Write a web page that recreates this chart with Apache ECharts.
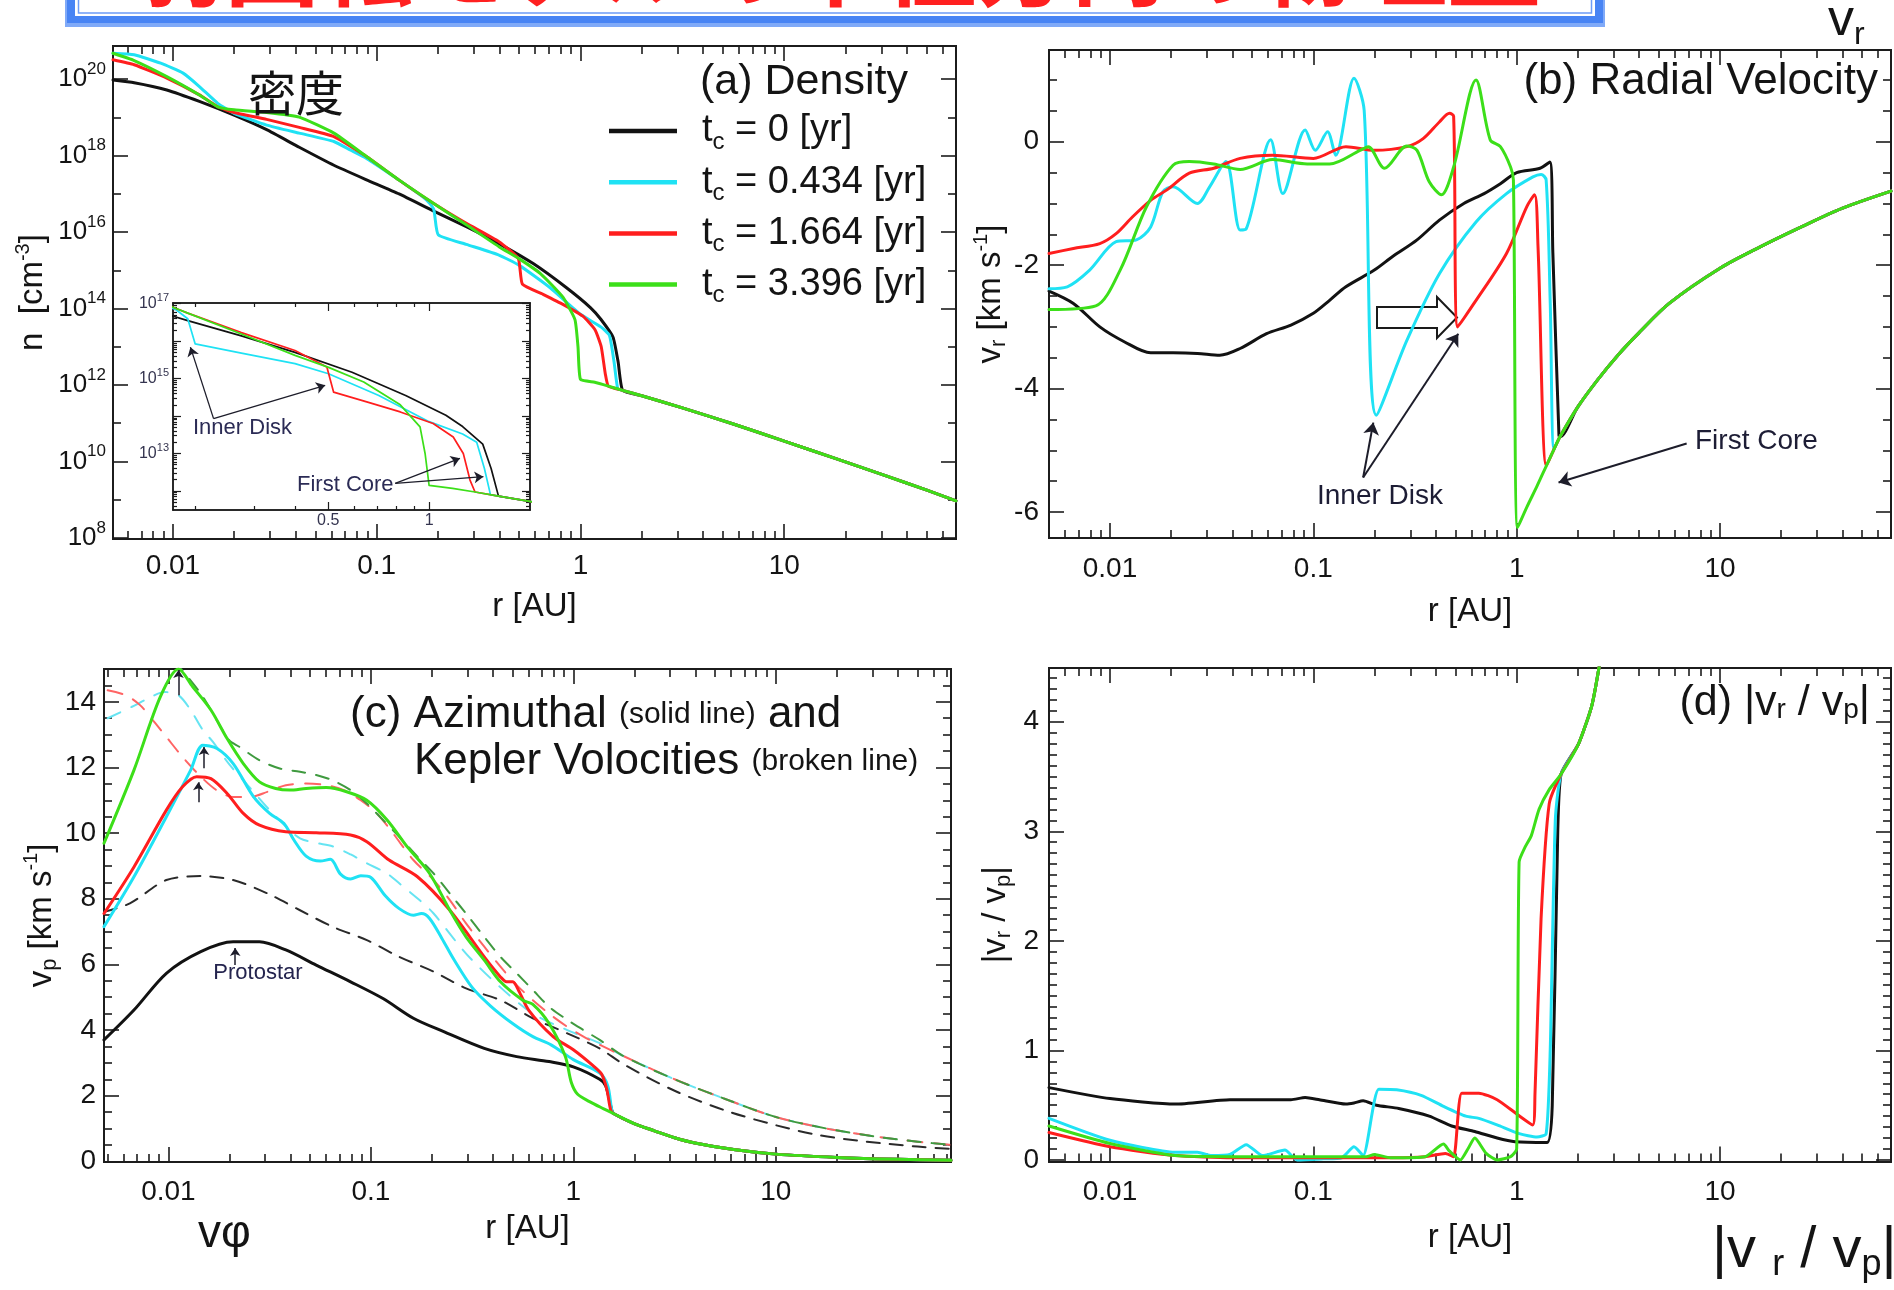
<!DOCTYPE html>
<html>
<head>
<meta charset="utf-8">
<script src="https://cdn.jsdelivr.net/npm/echarts@6/dist/echarts.min.js"></script>
<style>
  html, body { margin: 0; padding: 0; background: #ffffff; }
  #chart { width: 1894px; height: 1290px; }
</style>
</head>
<body>
<div id="chart"></div>
<script>
// Radial profiles of the first core at four epochs.
// Radius is stored as log10(r / AU); density as log10(n / cm^-3).

// ---------- (a) number density ----------
const densityT0 = [[-2.294,19.98],[-2.19,19.91],[-2.03,19.72],[-1.87,19.42],[-1.70,19.06],[-1.54,18.68],[-1.38,18.22],[-1.21,17.75],[-1.05,17.37],[-0.89,17.00],[-0.72,16.55],[-0.56,16.14],[-0.40,15.70],[-0.23,15.17],[-0.07,14.55],[0.05,14.02],[0.10,13.72],[0.16,13.25],[0.185,12.60],[0.207,11.86]];
const densityT1 = [[-2.294,20.68],[-2.19,20.64],[-2.06,20.42],[-1.95,20.16],[-1.87,19.81],[-1.78,19.37],[-1.70,19.11],[-1.54,18.80],[-1.38,18.59],[-1.21,18.37],[-1.13,18.15],[-1.05,17.93],[-0.89,17.36],[-0.755,16.84],[-0.72,16.60],[-0.698,15.93],[-0.56,15.68],[-0.40,15.40],[-0.30,15.13],[-0.15,14.55],[0.0,13.85],[0.10,13.52],[0.142,13.30],[0.165,12.60],[0.183,11.90],[0.207,11.86]];
const densityT2 = [[-2.294,20.51],[-2.19,20.38],[-2.03,20.03],[-1.87,19.59],[-1.78,19.28],[-1.70,19.13],[-1.54,18.95],[-1.38,18.74],[-1.21,18.50],[-1.05,17.98],[-0.89,17.36],[-0.72,16.75],[-0.56,16.23],[-0.40,15.75],[-0.305,15.31],[-0.285,14.64],[-0.186,14.38],[-0.086,14.11],[0.012,13.80],[0.072,13.44],[0.102,13.00],[0.122,12.29],[0.137,11.97],[0.207,11.86]];
const densityT3 = [[-2.294,20.68],[-2.19,20.49],[-2.03,20.07],[-1.87,19.59],[-1.78,19.28],[-1.70,19.20],[-1.54,19.13],[-1.38,19.01],[-1.21,18.59],[-1.05,17.98],[-0.89,17.36],[-0.72,16.75],[-0.56,16.19],[-0.40,15.62],[-0.30,15.30],[-0.195,14.91],[-0.086,14.30],[-0.027,13.71],[-0.012,13.00],[0.0,12.15],[0.07,12.07],[0.137,11.97],[0.207,11.86]];
const densityOuter = [[0.30,11.72],[0.50,11.40],[0.75,10.98],[1.0,10.53],[1.25,10.08],[1.50,9.62],[1.70,9.25],[1.843,8.97]];

// ---------- (b) radial velocity [km/s] ----------
const vradT0 = [[-2.30,-2.42],[-2.18,-2.62],[-2.05,-3.00],[-1.93,-3.24],[-1.80,-3.42],[-1.69,-3.42],[-1.57,-3.43],[-1.46,-3.46],[-1.36,-3.35],[-1.23,-3.11],[-1.11,-2.97],[-1.0,-2.78],[-0.92,-2.57],[-0.84,-2.35],[-0.70,-2.08],[-0.61,-1.86],[-0.49,-1.59],[-0.38,-1.27],[-0.26,-1.00],[-0.16,-0.84],[-0.08,-0.68],[0.0,-0.50],[0.115,-0.43],[0.163,-0.33],[0.178,-1.80],[0.208,-4.76]];
const vradT1 = [[-2.30,-2.38],[-2.21,-2.35],[-2.10,-2.08],[-1.97,-1.62],[-1.87,-1.59],[-1.80,-1.38],[-1.74,-0.81],[-1.69,-0.73],[-1.57,-1.00],[-1.51,-0.73],[-1.43,-0.32],[-1.36,-1.43],[-1.33,-1.41],[-1.21,0.03],[-1.15,-0.84],[-1.04,0.19],[-0.99,-0.14],[-0.93,0.16],[-0.89,-0.22],[-0.80,1.03],[-0.75,0.51],[-0.69,-4.43],[-0.54,-3.22],[-0.38,-2.14],[-0.20,-1.30],[-0.05,-0.84],[0.08,-0.57],[0.12,-0.53],[0.145,-0.62],[0.165,-2.60],[0.184,-4.98]];
const vradT2 = [[-2.30,-1.81],[-2.18,-1.73],[-2.05,-1.65],[-1.97,-1.49],[-1.89,-1.22],[-1.80,-0.95],[-1.72,-0.78],[-1.61,-0.51],[-1.49,-0.43],[-1.36,-0.27],[-1.20,-0.22],[-1.0,-0.27],[-0.84,-0.08],[-0.70,-0.14],[-0.54,-0.08],[-0.46,0.05],[-0.38,0.32],[-0.33,0.46],[-0.31,0.41],[-0.29,-3.00],[-0.21,-2.62],[-0.05,-1.81],[0.05,-1.05],[0.088,-0.86],[0.105,-1.70],[0.146,-5.25],[0.184,-4.98]];
const vradT3 = [[-2.30,-2.72],[-2.07,-2.66],[-1.95,-2.08],[-1.82,-1.05],[-1.69,-0.38],[-1.61,-0.32],[-1.49,-0.36],[-1.36,-0.45],[-1.20,-0.29],[-1.03,-0.36],[-0.92,-0.36],[-0.77,-0.14],[-0.73,-0.08],[-0.65,-0.43],[-0.54,-0.07],[-0.49,-0.14],[-0.43,-0.65],[-0.37,-0.86],[-0.31,-0.41],[-0.20,1.00],[-0.13,0.03],[-0.08,-0.08],[-0.03,-0.41],[-0.016,-0.62],[0.005,-6.25],[0.05,-5.92],[0.10,-5.58],[0.146,-5.25],[0.184,-4.98]];
const vradOuter = [[0.213,-4.78],[0.30,-4.30],[0.40,-3.85],[0.50,-3.45],[0.60,-3.10],[0.75,-2.62],[1.0,-2.05],[1.2,-1.70],[1.4,-1.38],[1.6,-1.08],[1.841,-0.80]];

// ---------- (c) azimuthal velocity [km/s] ----------
const vphiT0 = [[-2.318,3.70],[-2.17,4.61],[-2.01,5.73],[-1.84,6.39],[-1.68,6.69],[-1.55,6.69],[-1.42,6.44],[-1.27,5.98],[-1.10,5.47],[-0.94,4.96],[-0.79,4.36],[-0.64,3.95],[-0.44,3.44],[-0.28,3.19],[-0.12,3.04],[0.0,2.88],[0.13,2.50],[0.16,2.30],[0.19,1.55]];
const vphiT1 = [[-2.318,7.15],[-2.17,8.67],[-2.01,10.50],[-1.89,11.92],[-1.83,12.68],[-1.76,12.58],[-1.68,12.12],[-1.58,11.11],[-1.50,10.60],[-1.43,10.30],[-1.38,9.79],[-1.32,9.30],[-1.25,9.15],[-1.20,9.20],[-1.15,8.75],[-1.10,8.60],[-1.05,8.70],[-1.0,8.65],[-0.93,8.10],[-0.86,7.70],[-0.79,7.50],[-0.75,7.55],[-0.71,7.40],[-0.65,6.80],[-0.59,6.15],[-0.50,5.30],[-0.41,4.74],[-0.30,4.20],[-0.20,3.80],[-0.11,3.55],[0.0,3.10],[0.13,2.69],[0.17,2.30],[0.19,1.55]];
const vphiT2 = [[-2.318,7.55],[-2.17,8.97],[-2.01,10.70],[-1.93,11.41],[-1.86,11.72],[-1.79,11.66],[-1.71,11.21],[-1.63,10.60],[-1.55,10.24],[-1.42,10.04],[-1.27,10.01],[-1.10,9.94],[-1.02,9.74],[-0.91,9.18],[-0.77,8.67],[-0.61,7.65],[-0.44,6.23],[-0.36,5.62],[-0.33,5.47],[-0.30,5.47],[-0.27,5.20],[-0.22,4.60],[-0.10,3.80],[0.0,3.40],[0.10,2.90],[0.14,2.65],[0.165,2.20],[0.185,1.55]];
const vphiT3 = [[-2.318,9.69],[-2.17,11.92],[-2.04,14.15],[-1.95,15.00],[-1.88,14.46],[-1.79,13.75],[-1.71,12.88],[-1.63,12.12],[-1.55,11.56],[-1.47,11.36],[-1.40,11.31],[-1.32,11.36],[-1.22,11.39],[-1.12,11.26],[-1.02,11.00],[-0.92,10.40],[-0.82,9.58],[-0.71,8.77],[-0.61,7.65],[-0.53,6.84],[-0.44,6.13],[-0.36,5.47],[-0.25,4.91],[-0.20,4.78],[-0.12,4.20],[-0.04,3.20],[-0.01,2.40],[0.02,2.05],[0.08,1.82],[0.15,1.60]];
const vphiOuter = [[0.20,1.45],[0.30,1.15],[0.40,0.93],[0.50,0.72],[0.60,0.56],[0.80,0.35],[1.0,0.22],[1.3,0.12],[1.6,0.06],[1.865,0.03]];

// Kepler velocities [km/s]
const vkepT0 = [[-2.318,7.60],[-2.19,7.86],[-2.01,8.57],[-1.84,8.69],[-1.68,8.57],[-1.51,8.16],[-1.35,7.65],[-1.19,7.15],[-1.02,6.74],[-0.86,6.23],[-0.69,5.78],[-0.53,5.27],[-0.36,4.91],[-0.20,4.36],[-0.03,3.90],[0.13,3.44],[0.25,2.95],[0.50,2.15],[0.75,1.55],[1.0,1.10],[1.21,0.80],[1.45,0.60],[1.70,0.45],[1.865,0.38]];
const vkepT1 = [[-2.30,13.50],[-2.18,13.85],[-2.10,14.10],[-2.02,14.30],[-1.95,14.20],[-1.89,13.75],[-1.83,13.14],[-1.78,12.78],[-1.70,12.10],[-1.60,11.40],[-1.50,10.70],[-1.42,10.20],[-1.35,9.84],[-1.27,9.70],[-1.19,9.60],[-1.10,9.35],[-1.02,9.08],[-0.92,8.77],[-0.86,8.47],[-0.76,7.96],[-0.69,7.55],[-0.53,6.33],[-0.36,5.30],[-0.20,4.50],[-0.03,4.00],[0.13,3.60]];
const vkepT2 = [[-2.30,14.35],[-2.21,14.20],[-2.14,13.90],[-2.07,13.39],[-2.01,12.93],[-1.93,12.32],[-1.84,11.72],[-1.76,11.30],[-1.68,11.10],[-1.60,11.10],[-1.51,11.26],[-1.42,11.46],[-1.32,11.51],[-1.22,11.46],[-1.13,11.30],[-1.05,11.00],[-0.97,10.60],[-0.89,9.99],[-0.79,9.18],[-0.69,8.57],[-0.61,7.96],[-0.53,7.25],[-0.44,6.54],[-0.36,5.93],[-0.28,5.37],[-0.20,4.91],[-0.12,4.50],[-0.03,4.10],[0.05,3.80],[0.13,3.55]];
const vkepT3 = [[-2.05,15.80],[-1.95,15.10],[-1.84,14.25],[-1.79,13.75],[-1.70,12.83],[-1.65,12.63],[-1.55,12.22],[-1.45,11.97],[-1.35,11.87],[-1.27,11.77],[-1.19,11.61],[-1.10,11.31],[-1.02,10.90],[-0.94,10.40],[-0.86,9.89],[-0.77,9.28],[-0.69,8.77],[-0.61,8.16],[-0.53,7.55],[-0.44,6.84],[-0.36,6.23],[-0.28,5.73],[-0.20,5.22],[-0.12,4.71],[-0.03,4.31],[0.05,4.00],[0.13,3.70]];
const vkepOuter = [[0.25,3.20],[0.50,2.50],[0.75,1.90],[1.0,1.35],[1.25,1.00],[1.5,0.75],[1.7,0.60],[1.865,0.50]];

// ---------- (d) |v_r / v_phi| ----------
const ratioT0 = [[-2.30,0.66],[-2.0,0.56],[-1.68,0.51],[-1.41,0.55],[-1.11,0.55],[-1.04,0.57],[-0.97,0.55],[-0.84,0.51],[-0.80,0.52],[-0.755,0.54],[-0.69,0.50],[-0.58,0.47],[-0.43,0.40],[-0.32,0.31],[-0.206,0.26],[-0.096,0.20],[-0.008,0.167],[0.15,0.16],[0.175,0.50],[0.20,2.80]];
const ratioT1 = [[-2.30,0.38],[-2.0,0.18],[-1.68,0.07],[-1.57,0.07],[-1.50,0.04],[-1.41,0.05],[-1.33,0.14],[-1.25,0.04],[-1.14,0.09],[-1.08,0.0],[-0.95,0.01],[-0.86,0.02],[-0.80,0.12],[-0.755,0.04],[-0.678,0.645],[-0.59,0.64],[-0.47,0.59],[-0.36,0.49],[-0.25,0.40],[-0.186,0.38],[-0.096,0.32],[0.013,0.24],[0.10,0.21],[0.145,0.24],[0.165,1.00],[0.19,3.10]];
const ratioT2 = [[-2.30,0.25],[-2.0,0.12],[-1.68,0.04],[-1.40,0.02],[-1.0,0.02],[-0.60,0.02],[-0.45,0.03],[-0.35,0.06],[-0.31,0.03],[-0.27,0.61],[-0.186,0.61],[-0.096,0.55],[0.0,0.42],[0.079,0.32],[0.09,0.60],[0.12,2.20],[0.16,3.25]];
const ratioT3 = [[-2.30,0.31],[-2.0,0.15],[-1.68,0.04],[-1.40,0.03],[-1.0,0.03],[-0.74,0.03],[-0.70,0.05],[-0.62,0.02],[-0.45,0.03],[-0.36,0.145],[-0.33,0.08],[-0.277,0.0],[-0.24,0.10],[-0.206,0.20],[-0.15,0.06],[-0.096,0.0],[-0.03,0.03],[0.0,0.10],[0.012,2.72],[0.04,2.85],[0.072,2.96],[0.11,3.20],[0.16,3.38]];
const ratioOuter = [[0.218,3.52],[0.305,3.80],[0.37,4.15],[0.41,4.55]];

// Legend entries (collapse time t_c)
const epochLabels = ['0', '0.434', '1.664', '3.396'];

// ---------- styling ----------
const FONT = '"Liberation Sans", Arial, Helvetica, sans-serif';
const CJK = '"Noto Sans CJK JP", "Noto Sans CJK SC", sans-serif';
const INK = '#141414';
const LINE = '#1c1c1c';
const solidColors = ['#121212', '#1fe2f4', '#ff1e1e', '#3cdf19'];
const kepColors = ['#2a2a2a', '#66e4f2', '#ff6464', '#3f9a3f'];

// axis extents in log10 units
const xExtA = [-2.294, 1.843], yExtA = [7.97, 20.87];
const xExtB = [-2.30, 1.841], yExtB = [-6.42, 1.486];
const xExtC = [-2.318, 1.865], yExtC = [-0.02, 15.0];
const xExtD = [-2.30, 1.841], yExtD = [-0.014, 4.49];
const xExtIn = [-0.764, 0.301], yExtIn = [11.49, 17.02];

function logMinor(ext) {
  const out = [];
  for (let d = Math.floor(ext[0]) - 1; d <= Math.ceil(ext[1]); d++) {
    for (let m = 2; m <= 9; m++) {
      const v = d + Math.log10(m);
      if (v > ext[0] + 1e-4 && v < ext[1] - 1e-4) out.push(+v.toFixed(5));
    }
  }
  return out;
}
function linTicks(ext, step, skipStep) {
  const out = [];
  const start = Math.ceil(ext[0] / step - 1e-9);
  for (let k = start; k * step <= ext[1] + 1e-9; k++) {
    const v = +(k * step).toFixed(6);
    if (v <= ext[0] + 1e-6 || v >= ext[1] - 1e-6) continue;
    if (skipStep) { const r = v / skipStep; if (Math.abs(r - Math.round(r)) < 1e-6) continue; }
    out.push(v);
  }
  return out;
}
const fmtLogR = v => { const p = Math.round(v); return p < 0 ? Math.pow(10, p).toFixed(-p) : String(Math.pow(10, p)); };
const fmtPow = v => '10{sup|' + Math.round(v) + '}';
const fmtNum = v => String(Math.round(v * 100) / 100);

const nameStyle = {
  fontSize: 33, fontFamily: FONT, color: INK,
  rich: {
    sub: { fontSize: 22, fontFamily: FONT, color: INK, padding: [16, 0, 0, 0] },
    sup: { fontSize: 20, fontFamily: FONT, color: INK, padding: [0, 0, 20, 0] }
  }
};
const tickLabel = { fontSize: 28, fontFamily: FONT, color: INK };

// ---------- axes: each frame gets mirrored major/minor ticks on all four sides ----------
const xAxes = [], yAxes = [];
function axisBase(gi, ext, pos, ticks, len, lw) {
  return {
    type: 'value', gridIndex: gi, min: ext[0], max: ext[1], position: pos, offset: 0,
    splitLine: { show: false }, silent: true,
    axisLine: { show: true, onZero: false, lineStyle: { color: LINE, width: lw } },
    axisTick: { show: true, inside: true, length: len, customValues: ticks, lineStyle: { color: LINE, width: lw * 0.8 } },
    axisLabel: { show: false, customValues: ticks }
  };
}
function addFrame(gi, xExt, yExt, o) {
  const xi = xAxes.length, yi = yAxes.length;
  const bx = axisBase(gi, xExt, 'bottom', o.xMajor, o.majorLen, o.lw);
  bx.axisLabel = Object.assign({ show: true, customValues: o.xLabels || o.xMajor }, o.xLabel);
  if (o.xName) Object.assign(bx, { name: o.xName, nameLocation: 'middle', nameGap: o.xNameGap, nameTextStyle: nameStyle });
  xAxes.push(bx,
    axisBase(gi, xExt, 'bottom', o.xMinor, o.minorLen, o.lw),
    axisBase(gi, xExt, 'top', o.xMajor, o.majorLen, o.lw),
    axisBase(gi, xExt, 'top', o.xMinor, o.minorLen, o.lw));
  const ly = axisBase(gi, yExt, 'left', o.yMajor, o.majorLen, o.lw);
  ly.axisLabel = Object.assign({ show: true, customValues: o.yLabels || o.yMajor }, o.yLabel);
  if (o.yName) Object.assign(ly, { name: o.yName, nameLocation: 'middle', nameRotate: 90, nameGap: o.yNameGap, nameTextStyle: nameStyle });
  yAxes.push(ly,
    axisBase(gi, yExt, 'left', o.yMinor, o.minorLen, o.lw),
    axisBase(gi, yExt, 'right', o.yMajor, o.majorLen, o.lw),
    axisBase(gi, yExt, 'right', o.yMinor, o.minorLen, o.lw));
  return { xi, yi };
}

const xLabelAt = margin => Object.assign({ margin, formatter: fmtLogR }, tickLabel);
const xMajorMain = [-2, -1, 0, 1];

const axA = addFrame(0, xExtA, yExtA, {
  xMajor: xMajorMain, xMinor: logMinor(xExtA), yMajor: [8, 10, 12, 14, 16, 18, 20], yMinor: [9, 11, 13, 15, 17, 19],
  majorLen: 15, minorLen: 8, lw: 2,
  xLabel: xLabelAt(13),
  yLabel: { margin: 7, fontSize: 26, fontFamily: FONT, color: INK, formatter: fmtPow,
    rich: { sup: { fontSize: 17, fontFamily: FONT, color: INK, padding: [0, 0, 20, 0] } } },
  xName: 'r [AU]', xNameGap: 51, yName: 'n  [cm{sup|-3}]', yNameGap: 60
});
const axB = addFrame(1, xExtB, yExtB, {
  xMajor: xMajorMain, xMinor: logMinor(xExtB), yMajor: [-6, -4, -2, 0], yMinor: linTicks(yExtB, 0.5, 2),
  majorLen: 15, minorLen: 8, lw: 2,
  xLabel: xLabelAt(17),
  yLabel: Object.assign({ margin: 10, formatter: fmtNum }, tickLabel),
  xName: 'r [AU]', xNameGap: 57, yName: 'v{sub|r} [km s{sup|-1}]', yNameGap: 36
});
const axC = addFrame(2, xExtC, yExtC, {
  xMajor: xMajorMain, xMinor: logMinor(xExtC), yMajor: [0, 2, 4, 6, 8, 10, 12, 14], yMinor: linTicks(yExtC, 0.5, 2),
  majorLen: 15, minorLen: 8, lw: 2,
  xLabel: xLabelAt(16),
  yLabel: Object.assign({ margin: 8, formatter: fmtNum }, tickLabel),
  xName: 'r [AU]', xNameGap: 50, yName: 'v{sub|p} [km s{sup|-1}]', yNameGap: 36
});
const axD = addFrame(3, xExtD, yExtD, {
  xMajor: xMajorMain, xMinor: logMinor(xExtD), yMajor: [0, 1, 2, 3, 4], yMinor: linTicks(yExtD, 0.1, 1),
  majorLen: 15, minorLen: 8, lw: 2,
  xLabel: xLabelAt(17),
  yLabel: Object.assign({ margin: 10, formatter: fmtNum }, tickLabel),
  xName: 'r [AU]', xNameGap: 60, yName: '|v{sub|r} / v{sub|p}|', yNameGap: 34
});
const insetXMajor = [+Math.log10(0.5).toFixed(5), 0];
const axIn = addFrame(4, xExtIn, yExtIn, {
  xMajor: insetXMajor, xMinor: logMinor(xExtIn).filter(v => Math.abs(v - insetXMajor[0]) > 1e-3),
  yMajor: [12, 13, 14, 15, 16, 17], yMinor: logMinor(yExtIn), yLabels: [13, 15, 17],
  majorLen: 8, minorLen: 4, lw: 1.5,
  xLabel: { margin: 3, fontSize: 16, fontFamily: FONT, color: '#34344f', formatter: v => String(+Math.pow(10, v).toFixed(2)) },
  yLabel: { margin: 4, fontSize: 16, fontFamily: FONT, color: '#34344f', formatter: fmtPow,
    rich: { sup: { fontSize: 11, fontFamily: FONT, color: '#34344f', padding: [0, 0, 12, 0] } } }
});

// ---------- series ----------
const series = [];
function addLine(name, data, ax, color, width, dash, z, smooth) {
  const s = {
    name, type: 'line', xAxisIndex: ax.xi, yAxisIndex: ax.yi, data, color,
    symbol: 'none', showSymbol: false, smooth: smooth || false, clip: true, silent: true, animation: false,
    z: z || 2, lineStyle: { color, width, type: dash || 'solid', cap: 'round', join: 'round' }
  };
  series.push(s);
  return s;
}
function arrows(pairs, size, width) {
  return {
    silent: true, animation: false, symbol: ['none', 'arrow'], symbolSize: size,
    label: { show: false }, emphasis: { disabled: true },
    lineStyle: { color: '#1d1d2a', width, type: 'solid' },
    data: pairs.map(p => [{ coord: p[0] }, { coord: p[1] }])
  };
}

const densityAll = [densityT0, densityT1, densityT2, densityT3];
const vradAll = [vradT0, vradT1, vradT2, vradT3];
const vphiAll = [vphiT0, vphiT1, vphiT2, vphiT3];
const vkepAll = [vkepT0, vkepT1, vkepT2, vkepT3];
const ratioAll = [ratioT0, ratioT1, ratioT2, ratioT3];

// (a)
densityAll.forEach((d, i) => addLine('t' + i, d.concat(densityOuter), axA, solidColors[i], 3, null, 2, 0.15));
// (a) inset: same profiles, zoomed
const insetLines = densityAll.map((d, i) => addLine('in' + i, d.concat(densityOuter), axIn, solidColors[i], 1.7, null, 3));
insetLines[0].markLine = arrows([
  [[-0.643, 13.93], [-0.712, 15.84]],
  [[-0.643, 13.93], [-0.31, 14.82]],
  [[-0.101, 12.20], [0.092, 12.87]],
  [[-0.101, 12.20], [0.162, 12.38]]
], 9, 1.3);

// (b)
const vradLines = vradAll.map((d, i) => addLine('b' + i, d.concat(vradOuter), axB, solidColors[i], 3, null, 2, 0.3));
vradLines[0].markLine = arrows([
  [[-0.755, -5.44], [-0.705, -4.55]],
  [[-0.755, -5.44], [-0.287, -3.11]],
  [[0.836, -4.89], [0.206, -5.52]]
], 12, 2);

// (c) Kepler (broken) then azimuthal (solid)
addLine('k0', vkepT0, axC, kepColors[0], 2, [13, 10], 2, 0.3);
addLine('k1', vkepT1.concat(vkepOuter), axC, kepColors[1], 2, [14, 12], 2, 0.3);
addLine('k2', vkepT2.concat(vkepOuter), axC, kepColors[2], 2, [15, 12], 2, 0.3);
addLine('k3', vkepT3.concat(vkepOuter), axC, kepColors[3], 2, [13, 11], 2, 0.3);
const vphiLines = vphiAll.map((d, i) => addLine('c' + i, d.concat(vphiOuter), axC, solidColors[i], 3, null, 3, 0.3));
vphiLines[0].markLine = arrows([
  [[-1.95, 14.20], [-1.95, 14.97]],
  [[-1.824, 11.98], [-1.824, 12.62]],
  [[-1.852, 10.94], [-1.852, 11.55]],
  [[-1.67, 5.98], [-1.67, 6.50]]
], 8, 1.5);

// (d)
ratioAll.forEach((d, i) => addLine('d' + i, d.concat(ratioOuter), axD, solidColors[i], 3, null, 2, 0.2));

// ---------- text and decorations ----------
const txt = (x, y, text, size, opts) => ({
  type: 'text', x, y, z: 50, silent: true,
  style: Object.assign({ text, fontSize: size, fontFamily: FONT, fill: INK, align: 'left', verticalAlign: 'middle' }, opts || {})
});
const subRich = (size, pad, color) => ({ fontSize: size, fontFamily: FONT, fill: color || INK, padding: [pad, 0, 0, 0] });

const graphics = [
  // banner frame
  { type: 'rect', z: 40, silent: true, shape: { x: 65, y: -60, width: 1540, height: 87 }, style: { fill: '#80aaf8' } },
  { type: 'rect', z: 41, silent: true, shape: { x: 67, y: -60, width: 1536, height: 83 }, style: { fill: '#4884f4' } },
  { type: 'rect', z: 42, silent: true, shape: { x: 75, y: -60, width: 1520, height: 76 }, style: { fill: '#ffffff' } },
  { type: 'rect', z: 43, silent: true, shape: { x: 78.5, y: -60, width: 1513, height: 73 }, style: { fill: 'none', stroke: '#6e9cf6', lineWidth: 1.5 } },
  txt(836, -37, '弱回転モデルの半径方向の物理量', 94, { fontFamily: CJK, fontWeight: 'bold', fill: '#ff2020', align: 'center' }),

  txt(296, 93, '密度', 48, { fontFamily: CJK, align: 'center' }),
  txt(700, 82, '(a) Density', 43),
  txt(1878, 82, '(b) Radial Velocity', 44, { align: 'right' }),
  txt(350, 715, '(c) Azimuthal {s|(solid line)} and', 44, { rich: { s: { fontSize: 30, fontFamily: FONT, fill: INK } } }),
  txt(414, 762, 'Kepler Volocities {s|(broken line)}', 44, { rich: { s: { fontSize: 30, fontFamily: FONT, fill: INK } } }),
  txt(1870, 703, '(d) |v{s|r} / v{s|p}|', 43, { align: 'right', rich: { s: subRich(28, 14) } }),

  // annotations
  txt(193, 428, 'Inner Disk', 22, { fill: '#2b2b55' }),
  txt(297, 485, 'First Core', 22, { fill: '#2b2b55' }),
  txt(1317, 496, 'Inner Disk', 28, { fill: '#1d1d35' }),
  txt(1695, 441, 'First Core', 28, { fill: '#1d1d35' }),
  txt(258, 973, 'Protostar', 22, { fill: '#24244e', align: 'center' }),
  { type: 'polygon', z: 1, silent: true,
    shape: { points: [[1377, 307], [1437, 307], [1437, 297], [1457, 317.5], [1437, 338], [1437, 328], [1377, 328]] },
    style: { fill: '#ffffff', stroke: '#1a1a1a', lineWidth: 2 } },

  // quantity labels around the panels
  txt(1828, 20.5, 'v{s|r}', 52, { rich: { s: subRich(32, 30) } }),
  txt(198, 1234, 'vφ', 46),
  txt(1712, 1251, '|v {s|r} / v{s|p}|', 58, { rich: { s: subRich(36, 28) } })
];

const option = {
  animation: false,
  backgroundColor: '#ffffff',
  grid: [
    { left: 113, top: 46, width: 843, height: 493 },
    { left: 1049, top: 50, width: 842, height: 488 },
    { left: 104, top: 669, width: 847, height: 493 },
    { left: 1049, top: 668, width: 842, height: 493.5 },
    { left: 173, top: 303, width: 357, height: 207 }
  ],
  xAxis: xAxes,
  yAxis: yAxes,
  legend: {
    data: ['t0', 't1', 't2', 't3'],
    orient: 'vertical', left: 604, top: 107,
    itemWidth: 68, itemHeight: 4.5, itemGap: 9.2, icon: 'rect', selectedMode: false,
    formatter: n => 't{s|c} = ' + epochLabels[+n.slice(1)] + ' [yr]',
    textStyle: { fontSize: 38, fontFamily: FONT, color: INK, padding: [0, 0, 0, 20],
      rich: { s: { fontSize: 24, fontFamily: FONT, color: INK, padding: [22, 0, 0, 0] } } }
  },
  graphic: { elements: graphics },
  series
};

const chart = echarts.init(document.getElementById('chart'), null, { renderer: 'canvas', width: 1894, height: 1290 });
chart.setOption(option);
</script>
</body>
</html>
